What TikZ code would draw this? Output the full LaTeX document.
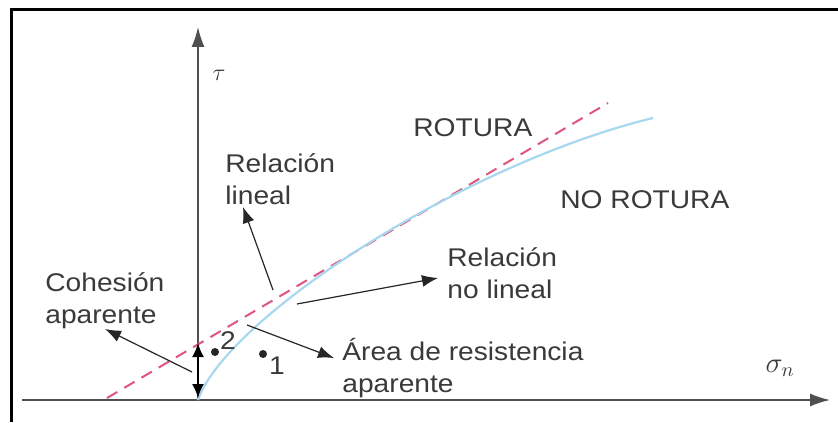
\documentclass[tikz,border=0pt]{standalone}
\usepackage{fontspec}
\setmainfont{Liberation Sans}[FakeStretch=1.1]
\usetikzlibrary{arrows.meta}
\definecolor{txt}{HTML}{3A3A3A}
\definecolor{axisc}{HTML}{505050}
\definecolor{dashc}{HTML}{E05580}
\definecolor{bluec}{HTML}{A8D8F0}
\begin{document}
\begin{tikzpicture}[x=0.5pt,y=-0.5pt,
  lbl/.style={inner sep=0pt, align=left, anchor=west, text=txt, font=\fontsize{12.8}{16}\selectfont},
  axis/.style={draw=axisc, line width=0.8pt, -{Latex[length=10pt,width=6.5pt]}},
  arr/.style={draw=black!85, line width=0.6pt, -{Latex[length=8pt,width=6pt]}},
  dbl/.style={draw=black, line width=1pt, {Latex[length=7pt,width=6pt]}-{Latex[length=7pt,width=6pt]}},
  dotc/.style={fill=black!85}]
\useasboundingbox (0,0) rectangle (838,422);
\fill[white] (0,0) rectangle (838,422);
% frame
\draw[line width=1.5pt] (11.5,422) -- (11.5,9.5) -- (838,9.5);
% axes
\coordinate (xs) at (22,400);
\coordinate (xe) at (830,400);
\coordinate (O) at (198,400);
\coordinate (ye) at (198,27);
\draw[axis] (xs) -- (xe);
\draw[axis] (O) -- (ye);
\node[inner sep=0pt, text=txt] (tau) at (219,75) {\large$\tau$};
\node[inner sep=0pt, text=txt] (sig) at (780,368) {\Large$\sigma_n$};
% curves
\coordinate (d1) at (107,398);
\coordinate (d2) at (608,103);
\draw[dashc, line width=1pt, dash pattern=on 6pt off 4pt] (d1) -- (d2);
\coordinate (b1) at (198,400);
\coordinate (b2) at (653,118);
\draw[bluec, line width=1.1pt] (b1) .. controls (225,320) and (460,165) .. (b2);
% labels
\node[lbl] (rot) at (413,128) {ROTURA};
\node[lbl] (norot) at (560,200) {NO ROTURA};
\node[lbl] (rl) at (225,179) {Relación\\lineal};
\node[lbl] (rnl) at (447,273) {Relación\\no lineal};
\node[lbl] (coh) at (45,301) {Cohesión\\aparente};
\node[lbl] (area) at (342,368) {Área de resistencia\\aparente};
% arrows
\coordinate (rlT) at (273,290);
\coordinate (rlH) at (243,207);
\draw[arr] (rlT) -- (rlH);
\coordinate (rnlT) at (297,304);
\coordinate (rnlH) at (438,278);
\draw[arr] (rnlT) -- (rnlH);
\coordinate (arT) at (247,325);
\coordinate (arH) at (334,358);
\draw[arr] (arT) -- (arH);
\coordinate (coT) at (192,372);
\coordinate (coH) at (105,329);
\draw[arr] (coT) -- (coH);
\coordinate (c1) at (198,343);
\coordinate (c2) at (198,398);
\draw[dbl] (c2) -- (c1);
% points
\fill[dotc] (215,352) circle[radius=2pt];
\node[inner sep=0pt, text=txt, font=\fontsize{12.8}{16}\selectfont] (p2) at (228,341) {2};
\fill[dotc] (263,354) circle[radius=2pt];
\node[inner sep=0pt, text=txt, font=\fontsize{12.8}{16}\selectfont] (p1) at (277,366) {1};
\end{tikzpicture}
\end{document}
